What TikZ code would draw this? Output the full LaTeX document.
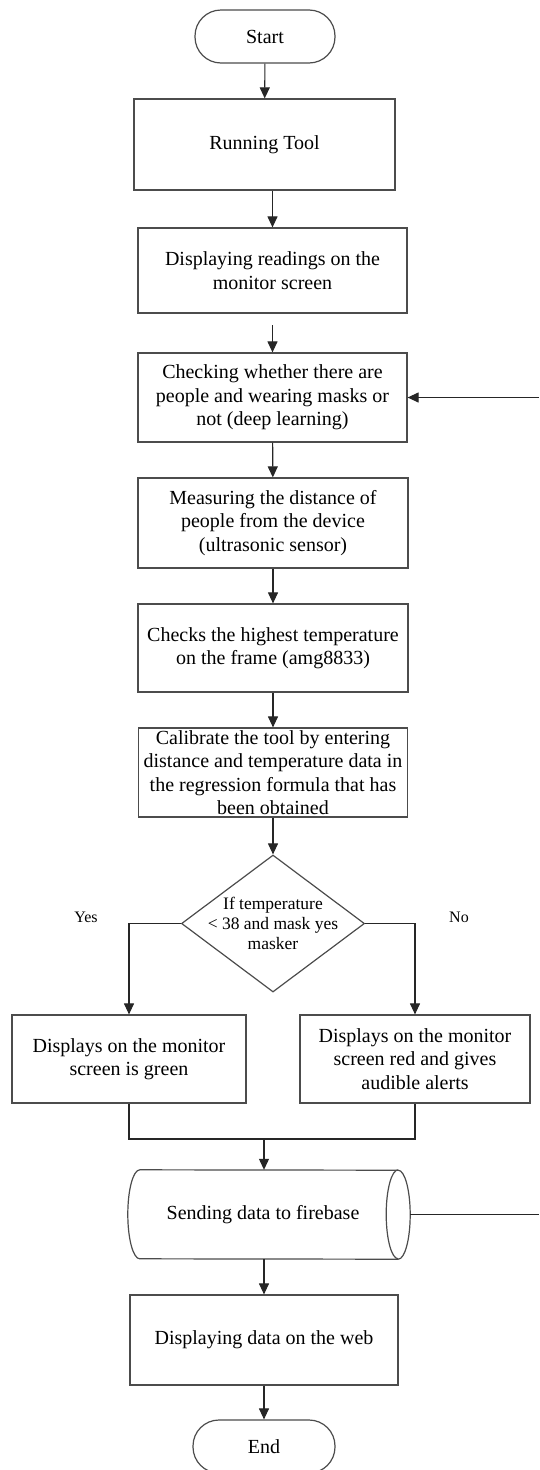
\documentclass[tikz,border=0pt]{standalone}
\usepackage{fontspec}
\setmainfont{Liberation Serif}
\usetikzlibrary{shapes.geometric,arrows.meta,calc}
\begin{document}
\begin{tikzpicture}[x=1pt,y=-1pt,
  txt/.style={font=\fontsize{20}{23.5}\selectfont},
  box/.style={draw=black!70,line width=1.2pt,fill=white,rectangle,align=center,inner sep=0pt,txt},
  term/.style={box,rounded corners=26pt,minimum width=140pt,minimum height=53pt},
  dec/.style={diamond,draw=black!70,line width=1.2pt,fill=white,inner sep=0pt,minimum width=183pt,minimum height=137pt,aspect=1.336},
  shp/.style={draw=black!70,line width=1.2pt},
  arr/.style={line width=1.1pt,draw=black!85,-{Triangle[length=11pt,width=10pt]}},
  ln/.style={line width=1.1pt,draw=black!85},
  lab/.style={font=\fontsize{16}{18}\selectfont}
]
\useasboundingbox (0,0) rectangle (539,1470);
\node[term] (start) at (265,36.5) {Start};
\node[box,minimum width=261pt,minimum height=91pt] (run) at (264.5,144.5) {Running Tool};
\node[box,minimum width=269pt,minimum height=85pt] (disp) at (272.5,270.5) {Displaying readings on the\\monitor screen};
\node[box,minimum width=269pt,minimum height=89pt] (check) at (272.5,397.5) {Checking whether there are\\people and wearing masks or\\not (deep learning)};
\node[box,minimum width=270pt,minimum height=90pt] (meas) at (273,523) {Measuring the distance of\\people from the device\\(ultrasonic sensor)};
\node[box,minimum width=270pt,minimum height=88pt] (high) at (273,648) {Checks the highest temperature\\on the frame (amg8833)};
\node[box,minimum width=269pt,minimum height=89pt] (cal) at (273,772.5) {Calibrate the tool by entering\\distance and temperature data in\\the regression formula that has\\been obtained};
\node[dec,label={[align=center,font=\fontsize{17.5}{20}\selectfont]center:If temperature\\< 38 and mask yes\\masker}] (dia) at (273,923.5) {};
\node[box,minimum width=234pt,minimum height=88pt] (green) at (129,1059) {Displays on the monitor\\screen is green};
\node[box,minimum width=230pt,minimum height=88pt] (red) at (415,1059) {Displays on the monitor\\screen red and gives\\audible alerts};
\node[rectangle,inner sep=0pt,minimum width=258pt,minimum height=89pt,txt] (cyl) at (269,1214.5) {};
\draw[shp,fill=white] (cyl.north west) arc[start angle=90,end angle=270,x radius=12pt,y radius=44.5pt]
  -- (cyl.south east) arc[start angle=270,end angle=450,x radius=12pt,y radius=44.5pt] -- cycle;
\draw[shp] (cyl.north east) arc[start angle=90,end angle=270,x radius=12pt,y radius=44.5pt];
\node[txt] at (263,1214.5) {Sending data to firebase};
\node[box,minimum width=268pt,minimum height=90pt] (web) at (264,1340) {Displaying data on the web};
\node[term,minimum width=142pt] (end) at (264,1446.5) {End};
\node[lab] (yes) at (86,917) {Yes};
\node[lab] (no) at (459,917) {No};
\coordinate (rin) at (539,397.5);
\coordinate (rout) at (539,1214.5);
\coordinate (cylr) at (410,1214.5);
\coordinate (d1) at (272.5,325);
\coordinate (m) at (264,1139);
\draw[arr] (start) -- (run);
\draw[arr] (run.south -| disp.north) -- (disp.north);
\draw[arr] (d1) -- (check.north);
\draw[arr] (rin) -- (check.east);
\draw[arr] (check) -- (meas);
\draw[arr] (meas) -- (high);
\draw[arr] (high) -- (cal);
\draw[arr] (cal) -- (dia);
\draw[arr] (dia.west) -| (green.north);
\draw[arr] (dia.east) -| (red.north);
\draw[ln] (green.south) |- (m) -| (red.south);
\draw[arr] (m) -- (m |- cyl.north);
\draw[ln] (cylr) -- (rout);
\draw[arr] (cyl.south -| web.north) -- (web.north);
\draw[arr] (web) -- (end);
\end{tikzpicture}
\end{document}
